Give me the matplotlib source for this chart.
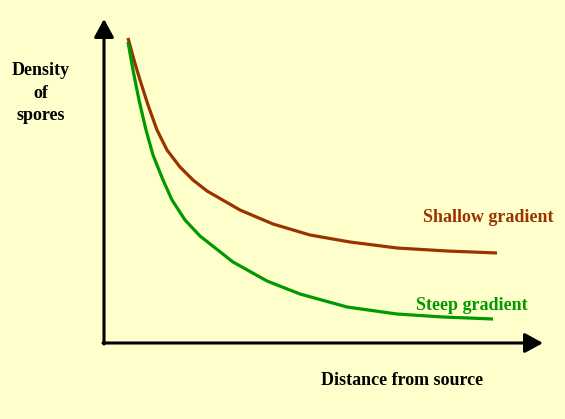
import matplotlib.pyplot as plt

# Curve points (distance, density)
shallow_x = [24, 30, 36, 44, 53, 63, 76, 89, 103, 136, 169, 206, 246, 293, 343, 393]
shallow_y = [305, 283, 263, 238, 213, 193, 176, 163, 152, 133, 119, 108, 101, 95, 92, 90]

steep_x = [24, 29, 35, 42, 49, 59, 68, 81, 96, 129, 163, 196, 243, 293, 339, 389]
steep_y = [301, 273, 243, 213, 188, 163, 143, 123, 107, 81, 62, 49, 36, 29, 26, 24]

bg = '#FFFFCC'
brown = '#993300'
green = '#009900'

fig = plt.figure(figsize=(5.65, 4.19), dpi=100, facecolor=bg)
ax = fig.add_axes([0, 0, 1, 1])
ax.set_facecolor(bg)
ax.set_xlim(-104, 461)
ax.set_ylim(-76, 343)
ax.axis('off')

# Axes with arrow heads
arrow = dict(arrowstyle='-|>,head_length=0.55,head_width=0.3', color='black',
             lw=2.2, mutation_scale=20, shrinkA=0, shrinkB=0)
ax.annotate('', xy=(0, 324), xytext=(0, -1), arrowprops=arrow)
ax.annotate('', xy=(439, 0), xytext=(-1, 0), arrowprops=arrow)

ax.plot(shallow_x, shallow_y, color=brown, lw=2.3, solid_capstyle='butt', solid_joinstyle='round')
ax.plot(steep_x, steep_y, color=green, lw=2.3, solid_capstyle='butt', solid_joinstyle='round')

font = dict(family='Liberation Serif', fontweight='bold', fontsize=13)
ax.text(-63, 250, 'Density\nof\nspores', ha='center', va='center',
        linespacing=1.45, **font)
ax.text(298, -37, 'Distance from source', ha='center', va='center', **font)
ax.text(384, 126, 'Shallow gradient', ha='center', va='center', color=brown, **font)
ax.text(368, 37, 'Steep gradient', ha='center', va='center', color=green, **font)

fig.savefig('out.png', dpi=100, facecolor=bg)
